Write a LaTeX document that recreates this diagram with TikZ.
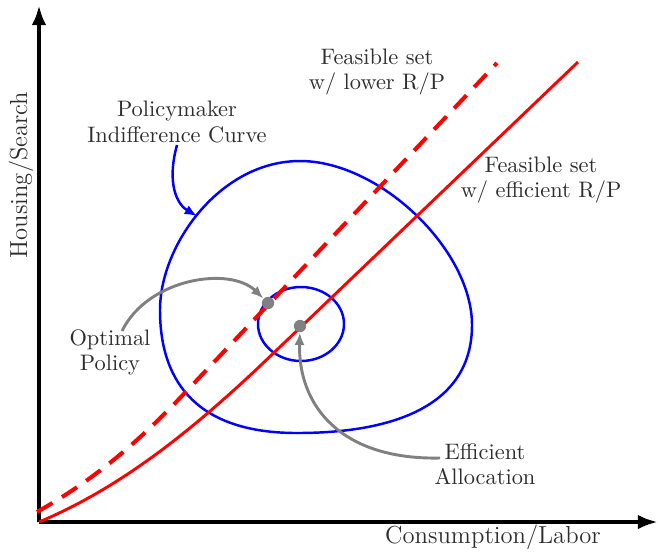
\documentclass[tikz,border=0pt]{standalone}
\usetikzlibrary{arrows.meta}
\definecolor{txt}{RGB}{45,45,45}
\definecolor{gr}{RGB}{128,128,128}
\tikzset{
  axisline/.style={line width=1.8pt, -{Latex[length=9pt,width=6.5pt]}},
  lab/.style={text=txt, align=center, inner sep=0pt, font=\fontsize{10}{11.2}\selectfont},
  axlab/.style={text=txt, inner sep=0pt, font=\fontsize{11}{13}\selectfont},
  efficient/.style={red, line width=1.3pt},
  lower/.style={red, line width=1.8pt, dash pattern=on 8pt off 5pt},
  indiff/.style={blue, line width=1.1pt},
  grayarrow/.style={gr, line width=1.3pt, -{Latex[length=5.5pt,width=4.5pt]}},
  bluearrow/.style={blue, line width=1.1pt, -{Latex[length=5.5pt,width=4.5pt]}},
  dotnode/.style={circle, fill=gr, minimum size=5.5pt, inner sep=0pt},
}
\begin{document}
\begin{tikzpicture}[x=0.4464pt, y=-0.4464pt]
\useasboundingbox (0,0) rectangle (658,551);
% axes
\coordinate (O) at (39,522);
\coordinate (ytip) at (39,5);
\coordinate (xtip) at (658,522);
\draw[axisline] (O) -- (ytip);
\draw[axisline] (O) -- (xtip);
\node[axlab, rotate=90] (ylab) at (21,175) {Housing/Search};
\node[axlab] (xlab) at (493,537) {Consumption/Labor};
% indifference curves
\draw[indiff] (300,161) .. controls (380,161) and (472,250) .. (472,325)
  .. controls (472,405) and (395,433) .. (297,433)
  .. controls (200,433) and (160,385) .. (160,310)
  .. controls (160,245) and (220,161) .. cycle;
\draw[indiff] (301,324) ellipse [x radius=43, y radius=37];
% feasible sets
\draw[lower] (37,512) .. controls (90,482) and (132,448) .. (180,398) -- (497,63);
\draw[efficient] (O) .. controls (120,488) and (190,432) .. (260,366) -- (578,62);
% points
\node[dotnode] (opt) at (268,303) {};
\node[dotnode] (eff) at (300,326) {};
% labels
\node[lab] (pmlab) at (177,122) {Policymaker\\Indifference Curve};
\node[lab] (lowlab) at (377,72) {Feasible set\\w/ lower R/P};
\node[lab] (efflabset) at (541,180) {Feasible set\\w/ efficient R/P};
\node[lab] (optlab) at (110,352) {Optimal\\Policy};
\node[lab] (efflab) at (485,464) {Efficient\\Allocation};
% connectors
\coordinate (pmstart) at (177,145);
\coordinate (pmend) at (197,216);
\draw[bluearrow] (pmstart) .. controls (166,185) and (178,205) .. (pmend);
\coordinate (optstart) at (122,331);
\draw[grayarrow] (optstart) .. controls (148,278) and (230,266) .. (opt);
\coordinate (effstart) at (440,458);
\draw[grayarrow] (effstart) .. controls (340,460) and (298,405) .. (eff);
\end{tikzpicture}
\end{document}
